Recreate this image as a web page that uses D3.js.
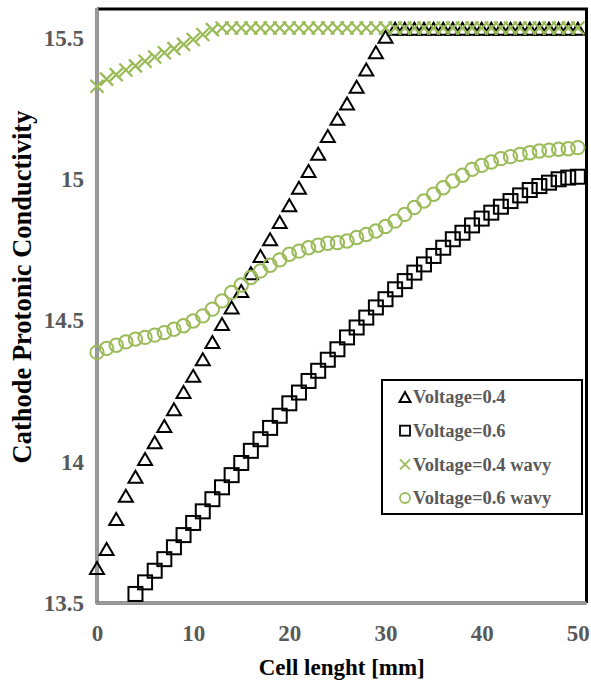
<!DOCTYPE html>
<html>
<head>
<meta charset="utf-8">
<script src="https://cdn.jsdelivr.net/npm/d3@7/dist/d3.min.js"></script>
<style>
  html, body { margin: 0; padding: 0; background: #fff; }
  svg { display: block; }
  text { font-family: "Liberation Serif", "Times New Roman", serif; font-weight: bold; }
</style>
</head>
<body>
<svg id="chart" width="591" height="684"></svg>
<script>
// Cell position along the channel [mm]
const cellLength = d3.range(0, 51);

// Cathode protonic conductivity, one value per mm
const voltage04 = [
  13.624, 13.691, 13.797, 13.879, 13.946, 14.009, 14.068, 14.126, 14.185, 14.246,
  14.303, 14.362, 14.423, 14.486, 14.545, 14.603, 14.666, 14.727, 14.786, 14.847,
  14.906, 14.968, 15.027, 15.088, 15.151, 15.212, 15.266, 15.325, 15.386, 15.447,
  15.502, 15.530, 15.530, 15.530, 15.530, 15.530, 15.530, 15.530, 15.530, 15.530,
  15.530, 15.530, 15.530, 15.530, 15.530, 15.530, 15.530, 15.530, 15.530, 15.530,
  15.530
];

// Voltage 0.6 enters the visible range at 4 mm
const voltage06Start = 4;
const voltage06 = [
  13.532, 13.573, 13.614, 13.655, 13.697, 13.740, 13.783, 13.824, 13.867, 13.909,
  13.952, 13.995, 14.038, 14.079, 14.119, 14.162, 14.206, 14.244, 14.285, 14.321,
  14.360, 14.397, 14.439, 14.474, 14.509, 14.545, 14.574, 14.609, 14.638, 14.668,
  14.697, 14.727, 14.756, 14.786, 14.809, 14.835, 14.859, 14.880, 14.901, 14.921,
  14.941, 14.960, 14.974, 14.986, 14.998, 15.004, 15.007
];

const voltage04Wavy = [
  15.327, 15.352, 15.368, 15.384, 15.399, 15.415, 15.430, 15.445, 15.460, 15.475,
  15.492, 15.510, 15.527, 15.533, 15.533, 15.533, 15.533, 15.533, 15.533, 15.533,
  15.533, 15.533, 15.533, 15.533, 15.533, 15.533, 15.533, 15.533, 15.533, 15.533,
  15.533, 15.533, 15.533, 15.533, 15.533, 15.533, 15.533, 15.533, 15.533, 15.533,
  15.533, 15.533, 15.533, 15.533, 15.533, 15.533, 15.533, 15.533, 15.533, 15.533,
  15.533
];

const voltage06Wavy = [
  14.386, 14.400, 14.411, 14.423, 14.433, 14.439, 14.447, 14.456, 14.468, 14.480,
  14.497, 14.515, 14.539, 14.568, 14.598, 14.624, 14.651, 14.674, 14.694, 14.713,
  14.733, 14.744, 14.756, 14.765, 14.772, 14.774, 14.780, 14.792, 14.803, 14.815,
  14.831, 14.850, 14.874, 14.898, 14.921, 14.945, 14.968, 14.992, 15.012, 15.033,
  15.047, 15.059, 15.071, 15.078, 15.086, 15.092, 15.098, 15.101, 15.104, 15.106,
  15.110
];

const xTicks = [0, 10, 20, 30, 40, 50];
const yTicks = [13.5, 14, 14.5, 15, 15.5];
const seriesNames = ["Voltage=0.4", "Voltage=0.6", "Voltage=0.4 wavy", "Voltage=0.6 wavy"];

const green = "#9bbb59";
const labelGrey = "#595959";

const svg = d3.select("#chart");

// Plot area
const plot = { left: 97, right: 586.5, top: 9, bottom: 603 };
const x = d3.scaleLinear().domain([0, 50.9]).range([plot.left, plot.right]);
const y = d3.scaleLinear().domain([13.5, 15.6]).range([plot.bottom, plot.top]);

// Frame: black on top/right, grey axis lines on left/bottom
svg.append("line").attr("x1", plot.left).attr("x2", plot.right + 1.5)
  .attr("y1", plot.top).attr("y2", plot.top)
  .attr("stroke", "#000").attr("stroke-width", 3);
svg.append("line").attr("x1", plot.right).attr("x2", plot.right)
  .attr("y1", plot.top).attr("y2", plot.bottom)
  .attr("stroke", "#000").attr("stroke-width", 3);

function axisLine(x1, y1, x2, y2) {
  svg.append("line").attr("x1", x1).attr("y1", y1).attr("x2", x2).attr("y2", y2)
    .attr("stroke", "#6f6f6f").attr("stroke-width", 3.5);
  svg.append("line").attr("x1", x1).attr("y1", y1).attr("x2", x2).attr("y2", y2)
    .attr("stroke", "#c8c8c8").attr("stroke-width", 1);
}
axisLine(plot.left, plot.top - 1, plot.left, plot.bottom + 1);
axisLine(plot.left - 1, plot.bottom, plot.right, plot.bottom);

// Axes (labels only, no ticks)
const xAxis = d3.axisBottom(x).tickValues(xTicks).tickSize(0).tickFormat(d3.format("d"));
const gx = svg.append("g").attr("transform", `translate(0,${plot.bottom})`).call(xAxis);
gx.select(".domain").remove();
gx.selectAll("text").attr("dy", null).attr("y", 38)
  .attr("fill", labelGrey).style("font-size", "23px")
  .style("font-family", "'Liberation Serif', serif").style("font-weight", "bold");

const yAxis = d3.axisLeft(y).tickValues(yTicks).tickSize(0).tickFormat(d => String(d));
const gy = svg.append("g").attr("transform", `translate(${plot.left},0)`).call(yAxis);
gy.select(".domain").remove();
gy.selectAll("text").attr("x", -13).attr("dy", "0.34em")
  .attr("fill", labelGrey).style("font-size", "23px")
  .style("font-family", "'Liberation Serif', serif").style("font-weight", "bold");

// Axis titles
svg.append("text").attr("x", (plot.left + plot.right) / 2).attr("y", 675)
  .attr("text-anchor", "middle").attr("fill", "#000").style("font-size", "23px")
  .text("Cell lenght [mm]");
svg.append("text")
  .attr("transform", "translate(31,287) rotate(-90)")
  .attr("text-anchor", "middle").attr("fill", "#000").style("font-size", "26.5px")
  .text("Cathode Protonic Conductivity");

// Marker shapes
const triPath = (cx, cy, w, h) =>
  `M${cx},${cy - h / 2}L${cx + w / 2},${cy + h / 2}L${cx - w / 2},${cy + h / 2}Z`;
const crossPath = (cx, cy, s) =>
  `M${cx - s / 2},${cy - s / 2}L${cx + s / 2},${cy + s / 2}M${cx - s / 2},${cy + s / 2}L${cx + s / 2},${cy - s / 2}`;

svg.append("clipPath").attr("id", "plotclip").append("rect")
  .attr("x", plot.left - 10).attr("y", plot.top - 10)
  .attr("width", plot.right - plot.left + 20).attr("height", plot.bottom - plot.top + 20);
const g = svg.append("g").attr("clip-path", "url(#plotclip)");

// Voltage = 0.4 (triangles)
g.append("g").selectAll("path").data(voltage04).join("path")
  .attr("d", (v, i) => triPath(x(cellLength[i]), y(v), 14, 12))
  .attr("fill", "none").attr("stroke", "#000").attr("stroke-width", 2)
  .attr("stroke-linejoin", "miter");

// Voltage = 0.6 (squares)
g.append("g").selectAll("rect").data(voltage06).join("rect")
  .attr("x", (v, i) => x(cellLength[i + voltage06Start]) - 7)
  .attr("y", v => y(v) - 7)
  .attr("width", 14).attr("height", 14)
  .attr("fill", "none").attr("stroke", "#000").attr("stroke-width", 2);

// Voltage = 0.4 wavy (crosses)
g.append("g").selectAll("path").data(voltage04Wavy).join("path")
  .attr("d", (v, i) => crossPath(x(cellLength[i]), y(v), 13))
  .attr("fill", "none").attr("stroke", green).attr("stroke-width", 2.2);

// Voltage = 0.6 wavy (circles)
g.append("g").selectAll("circle").data(voltage06Wavy).join("circle")
  .attr("cx", (v, i) => x(cellLength[i]))
  .attr("cy", v => y(v))
  .attr("r", 6.7)
  .attr("fill", "none").attr("stroke", green).attr("stroke-width", 2);

// Legend
const legend = svg.append("g");
legend.append("rect").attr("x", 382).attr("y", 380).attr("width", 200).attr("height", 134)
  .attr("fill", "#fff").attr("stroke", "#000").attr("stroke-width", 2);

const rowY = d3.scalePoint().domain(seriesNames).range([397, 498]);
const mx = 405;
seriesNames.forEach((name, i) => {
  const cy = rowY(name);
  if (i === 0) {
    legend.append("path").attr("d", triPath(mx, cy, 11, 10))
      .attr("fill", "none").attr("stroke", "#000").attr("stroke-width", 2);
  } else if (i === 1) {
    legend.append("rect").attr("x", mx - 5).attr("y", cy - 5).attr("width", 10).attr("height", 10)
      .attr("fill", "none").attr("stroke", "#000").attr("stroke-width", 1.8);
  } else if (i === 2) {
    legend.append("path").attr("d", crossPath(mx, cy, 10))
      .attr("fill", "none").attr("stroke", green).attr("stroke-width", 1.8);
  } else {
    legend.append("circle").attr("cx", mx).attr("cy", cy).attr("r", 5)
      .attr("fill", "none").attr("stroke", green).attr("stroke-width", 1.8);
  }
  legend.append("text").attr("x", 413).attr("y", cy).attr("dy", "0.34em")
    .attr("fill", labelGrey).style("font-size", "18.5px").text(name);
});
</script>
</body>
</html>
